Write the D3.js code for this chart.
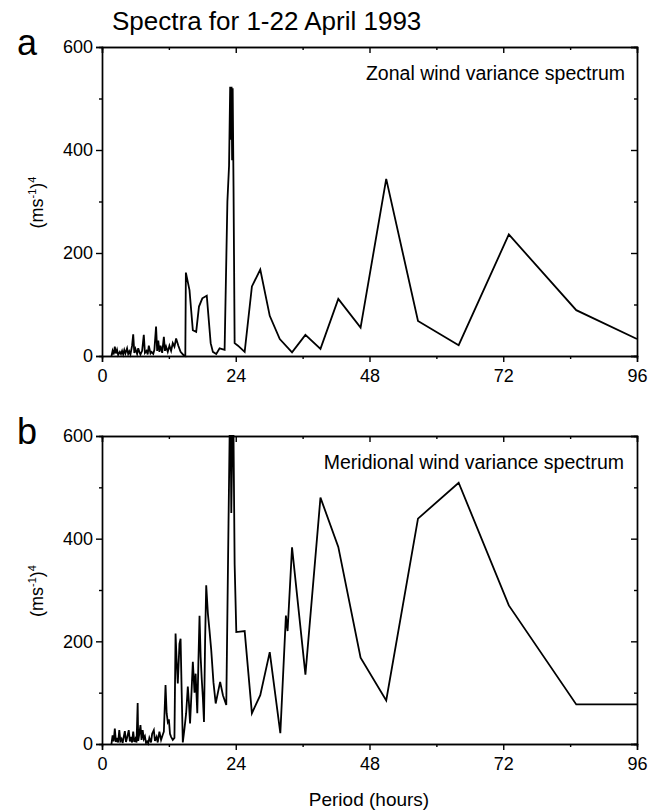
<!DOCTYPE html>
<html>
<head>
<meta charset="utf-8">
<script src="https://cdn.jsdelivr.net/npm/d3@7"></script>
<style>
  body { margin: 0; background: #fff; }
  svg { font-family: "Liberation Sans", Arial, sans-serif; }
  .axis path, .axis line { stroke: #000; stroke-width: 1.4px; }
  .axis text { font-size: 18px; fill: #000; }
</style>
</head>
<body>
<svg id="area" width="651" height="811"></svg>
<script>

// period (hours), variance
let zonalSpectrum = [
  [1.7,0],[1.9,10],[2.1,3],[2.3,18],[2.5,5],[2.7,12],[2.9,2],[3.2,8],[3.4,4],[3.6,10],
  [3.8,3],[4.0,12],[4.2,5],[4.5,15],[4.7,4],[4.9,9],[5.1,3],[5.4,20],[5.6,42],[5.8,6],
  [6.0,14],[6.3,4],[6.5,15],[6.7,8],[6.9,3],[7.2,10],[7.5,41],[7.7,6],[8.0,10],[8.2,3],
  [8.4,20],[8.7,5],[8.9,8],[9.2,4],[9.4,12],[9.7,57],[9.9,10],[10.1,30],[10.3,8],[10.5,20],
  [10.8,6],[11.1,37],[11.3,10],[11.5,18],[11.8,8],[12.1,20],[12.4,10],[12.7,25],[13.0,18],
  [13.3,34],[13.7,20],[14.1,8],[14.6,2],[14.95,0],[15.05,162],[15.7,128],[16.3,50],[16.9,47],
  [17.4,96],[18.0,112],[18.8,117],[19.5,25],[19.9,8],[20.5,4],[21.1,15],[22.0,12],[22.5,300],
  [22.8,370],[23.0,523],[23.15,420],[23.25,523],[23.35,380],[23.45,520],[23.6,330],[23.8,25],
  [24.4,20],[25.6,8],[26.9,135],[28.4,168],[30.1,78],[31.9,33],[34.1,7],[36.5,41],[39.2,14],
  [42.4,111],[46.4,55],[51.0,344],[56.7,68],[64.0,21],[73.0,236],[85.1,89],[96,33]
];

let meridionalSpectrum = [
  [1.7,0],[1.9,17],[2.1,5],[2.3,30],[2.5,4],[2.7,12],[2.9,3],[3.1,27],[3.3,6],[3.5,10],
  [3.7,2],[3.9,14],[4.1,25],[4.3,4],[4.5,12],[4.8,27],[5.0,5],[5.2,14],[5.4,3],[5.6,24],
  [5.8,4],[6.0,10],[6.2,3],[6.4,80],[6.5,6],[6.7,20],[6.9,37],[7.1,8],[7.3,27],[7.5,10],
  [7.7,15],[7.9,2],[8.1,5],[8.3,1],[8.5,12],[8.8,3],[9.0,20],[9.3,27],[9.5,6],[9.8,14],
  [10.0,3],[10.3,24],[10.6,8],[10.9,18],[11.1,24],[11.4,115],[11.6,60],[11.8,43],[12.0,48],
  [12.2,20],[12.4,14],[12.7,8],[13.0,12],[13.2,215],[13.4,160],[13.6,118],[13.9,195],[14.1,205],
  [14.3,100],[14.5,3],[14.8,30],[15.1,60],[15.4,112],[15.6,80],[15.8,40],[16.1,110],[16.3,160],
  [16.6,100],[16.8,137],[17.1,60],[17.3,160],[17.5,250],[17.7,170],[17.9,126],[18.1,90],
  [18.3,43],[18.5,200],[18.7,309],[19.0,254],[19.3,220],[19.6,183],[20.0,120],[20.4,79],
  [20.8,100],[21.2,121],[21.7,95],[22.3,76],[22.7,430],[22.9,600],[23.1,600],[23.2,450],
  [23.4,600],[23.6,600],[23.8,350],[24.1,218],[25.6,220],[26.9,60],[28.4,95],[30.1,179],
  [32.0,21],[33.0,250],[33.3,220],[34.1,383],[36.5,135],[39.2,480],[42.4,384],[46.4,168],
  [51.0,85],[56.7,439],[64.0,509],[73.0,270],[85.1,77],[96,77]
];

let xMajor = [0, 24, 48, 72, 96];
let xMinor = [12, 36, 60, 84];
let yMajor = [0, 200, 400, 600];
let yMinor = [100, 300, 500];

let svg = d3.select("#area");

let xScale = d3.scaleLinear()
    .domain([0, 96])
    .range([102, 637]);

let panels = [
  {letter: "a", name: "Zonal wind variance spectrum", data: zonalSpectrum, top: 47, bottom: 356, nameEnd: 625},
  {letter: "b", name: "Meridional wind variance spectrum", data: meridionalSpectrum, top: 436, bottom: 744, nameEnd: 624}
];

svg.append("text")
    .attr("x", 112)
    .attr("y", 30)
    .style("font-size", "26px")
    .text("Spectra for 1-22 April 1993");

panels.forEach(function(p) {

    let yScale = d3.scaleLinear()
        .domain([0, 600])
        .range([p.bottom, p.top]);

    // bottom + left, ticks outward with labels
    svg.append("g")
        .attr("class", "axis")
        .attr("transform", "translate(0," + p.bottom + ")")
        .call(d3.axisBottom(xScale).tickValues(xMajor).tickSize(6).tickPadding(7).tickFormat(d3.format("d")));
    svg.append("g")
        .attr("class", "axis")
        .attr("transform", "translate(0," + p.bottom + ")")
        .call(d3.axisBottom(xScale).tickValues(xMinor).tickSize(3).tickFormat(""));

    svg.append("g")
        .attr("class", "axis")
        .attr("transform", "translate(102,0)")
        .call(d3.axisLeft(yScale).tickValues(yMajor).tickSize(6).tickPadding(3).tickFormat(d3.format("d")));
    svg.append("g")
        .attr("class", "axis")
        .attr("transform", "translate(102,0)")
        .call(d3.axisLeft(yScale).tickValues(yMinor).tickSize(3).tickFormat(""));

    // top + right, ticks inward, no labels
    svg.append("g")
        .attr("class", "axis")
        .attr("transform", "translate(0," + p.top + ")")
        .call(d3.axisTop(xScale).tickValues(xMajor).tickSize(-6).tickFormat(""));
    svg.append("g")
        .attr("class", "axis")
        .attr("transform", "translate(0," + p.top + ")")
        .call(d3.axisTop(xScale).tickValues(xMinor).tickSize(-3).tickFormat(""));
    svg.append("g")
        .attr("class", "axis")
        .attr("transform", "translate(637,0)")
        .call(d3.axisRight(yScale).tickValues(yMajor).tickSize(-6).tickFormat(""));
    svg.append("g")
        .attr("class", "axis")
        .attr("transform", "translate(637,0)")
        .call(d3.axisRight(yScale).tickValues(yMinor).tickSize(-3).tickFormat(""));

    svg.selectAll(".axis .domain").attr("stroke-width", 1.6);

    let line = d3.line()
        .x(function(d) { return xScale(d[0]); })
        .y(function(d) { return yScale(d[1]); });

    svg.append("path")
        .datum(p.data)
        .attr("d", line)
        .style("fill", "none")
        .style("stroke", "#000")
        .style("stroke-width", "1.8px")
        .style("stroke-linejoin", "miter");

    svg.append("text")
        .attr("x", p.nameEnd)
        .attr("y", p.top + 33)
        .attr("text-anchor", "end")
        .style("font-size", "19.5px")
        .text(p.name);

    svg.append("text")
        .attr("x", 17)
        .attr("y", p.top + 8)
        .style("font-size", "36px")
        .text(p.letter);

    // (ms-1)^4 label
    let yl = svg.append("text")
        .attr("transform", "translate(43," + ((p.top + p.bottom) / 2 + 1) + ") rotate(-90)")
        .attr("text-anchor", "middle")
        .style("font-size", "18px");
    yl.append("tspan").text("(ms");
    yl.append("tspan").attr("dy", -7).style("font-size", "11px").text("-1");
    yl.append("tspan").attr("dy", 7).text(")");
    yl.append("tspan").attr("dy", -7).style("font-size", "11px").text("4");
});

svg.append("text")
    .attr("x", 369)
    .attr("y", 806)
    .attr("text-anchor", "middle")
    .style("font-size", "19px")
    .text("Period (hours)");

</script>
</body>
</html>
